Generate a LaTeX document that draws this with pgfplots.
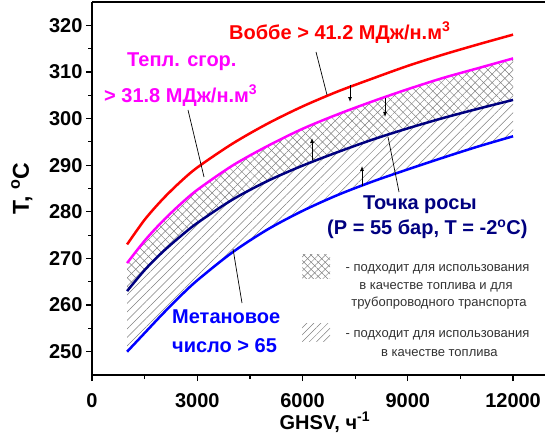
\documentclass[border=0pt]{standalone}
\usepackage{fontspec}
\setmainfont{Liberation Sans}
\usepackage{pgfplots}
\pgfplotsset{compat=1.18}
\usepackage{pgfplotstable}
\usepgfplotslibrary{fillbetween}
\usetikzlibrary{patterns.meta,arrows.meta}

\definecolor{cred}{RGB}{255,0,0}
\definecolor{cmag}{RGB}{255,0,255}
\definecolor{cnavy}{RGB}{0,0,128}
\definecolor{cblue}{RGB}{0,0,255}
\definecolor{cgray}{RGB}{50,50,50}

\pgfplotstableread{
x     red   mag   navy  blue
1000  273   269   263   250
1500  278.3 273.8 267.5 254
2000  282.6 277.9 271.3 258
2500  286.3 281.5 274.6 261.8
3000  289.5 284.7 277.6 265.3
4000  294.6 289.9 282.6 271.3
5000  298.9 294.1 286.6 276.2
6000  302.6 297.8 289.9 280.2
7000  305.8 300.9 292.8 283.6
8000  308.6 303.7 295.5 286.5
9000  311.3 306.3 297.9 289.1
10000 313.7 308.7 300.1 291.6
11000 315.9 310.8 302.1 294
12000 318   312.9 304   296.2
}\data

\begin{document}
\begin{tikzpicture}
\begin{axis}[
  at={(92pt,64pt)}, anchor=south west,
  scale only axis, width=453pt, height=373pt,
  xmin=0, xmax=12910, ymin=245, ymax=325,
  axis x line*=bottom, axis y line*=left,
  axis line style={line width=1.6pt, -},
  xtick={0,3000,...,12000}, ytick={250,260,...,320},
  scaled x ticks=false,
  minor x tick num=1, minor y tick num=1,
  tick align=outside,
  major tick length=6pt, minor tick length=4pt,
  every tick/.append style={black, line width=1.2pt},
  tick label style={font=\fontsize{20}{20}\selectfont\bfseries},
  xticklabel style={yshift=-9pt},
  /pgf/number format/assume math mode=true,
  /pgf/number format/set thousands separator={},
  xlabel={GHSV, ч\textsuperscript{-1}},
  ylabel={T, \textsuperscript{o}C},
  xlabel style={font=\fontsize{20}{20}\selectfont\bfseries, at={(axis description cs:0.514,-0.126)}, anchor=center},
  ylabel style={font=\fontsize{23}{23}\selectfont\bfseries, at={(axis description cs:-0.155,0.5)}, anchor=center},
  clip=false,
]
% invisible named paths
\addplot[draw=none, smooth, name path=magp] table[x=x, y=mag] {\data};
\addplot[draw=none, smooth, name path=navyp] table[x=x, y=navy] {\data};
\addplot[draw=none, smooth, name path=bluep] table[x=x, y=blue] {\data};
% fills
\addplot[draw=none, pattern={Lines[angle=45,distance=6pt,line width=0.5pt]}, pattern color=gray] fill between[of=magp and navyp];
\addplot[draw=none, pattern={Lines[angle=-45,distance=6pt,line width=0.5pt]}, pattern color=gray] fill between[of=magp and navyp];
\addplot[draw=none, pattern={Lines[angle=45,distance=6pt,line width=0.5pt]}, pattern color=gray] fill between[of=navyp and bluep];
% curves
\addplot[cred, line width=2.5pt, smooth] table[x=x, y=red] {\data};
\addplot[cmag, line width=2.5pt, smooth] table[x=x, y=mag] {\data};
\addplot[cnavy, line width=2.5pt, smooth] table[x=x, y=navy] {\data};
\addplot[cblue, line width=2.5pt, smooth] table[x=x, y=blue] {\data};

% top frame line
\draw[line width=1.6pt] (rel axis cs:0,1) -- (rel axis cs:1,1);

% annotations
\begin{scope}[every node/.style={anchor=base west, font=\fontsize{20}{20}\selectfont\bfseries, inner sep=0pt}]
\node[text=cred] at (axis cs:3905,317.06) {Воббе > 41.2 МДж/н.м\textsuperscript{3}};
\node[text=cmag] at (axis cs:998,311.06) {Тепл. сгор.};
\node[text=cmag] at (axis cs:342,303.55) {> 31.8 МДж/н.м\textsuperscript{3}};
\node[text=cnavy] at (axis cs:7724,280.39) {Точка росы};
\node[text=cnavy] at (axis cs:6698,275.03) {(P = 55 бар, T = -2\textsuperscript{o}C)};
\node[text=cblue] at (axis cs:2280,255.94) {Метановое};
\node[text=cblue] at (axis cs:2280,249.93) {число > 65};
\end{scope}

% pointer lines
\draw[black, line width=0.7pt] (axis cs:6384,314.28) -- (axis cs:6698,305.05);
\draw[black, line width=0.7pt] (axis cs:2736,301.84) -- (axis cs:3192,287.47);
\draw[black, line width=0.7pt] (axis cs:8436,296.05) -- (axis cs:8750,284.25);
\draw[black, line width=0.7pt] (axis cs:4019,272.02) -- (axis cs:4275,260.44);

% small arrows
\draw[-{Latex[length=5pt,width=4pt]}, line width=0.8pt] (axis cs:7353,307.2) -- (axis cs:7353,303.55);
\draw[-{Latex[length=5pt,width=4pt]}, line width=0.8pt] (axis cs:8351,304.41) -- (axis cs:8351,300.34);
\draw[-{Latex[length=5pt,width=4pt]}, line width=0.8pt] (axis cs:6270,291.11) -- (axis cs:6270,295.83);
\draw[-{Latex[length=5pt,width=4pt]}, line width=0.8pt] (axis cs:7695,285.54) -- (axis cs:7695,289.83);

% legend swatches
\fill[pattern={Lines[angle=45,distance=5pt,line width=0.5pt]}, pattern color=gray] (axis cs:5985,265.8) rectangle (axis cs:6783,270.74);
\fill[pattern={Lines[angle=-45,distance=5pt,line width=0.5pt]}, pattern color=gray] (axis cs:5985,265.8) rectangle (axis cs:6783,270.74);
\fill[pattern={Lines[angle=45,distance=5pt,line width=0.5pt]}, pattern color=gray] (axis cs:5985,252.08) rectangle (axis cs:6783,256.15);

% legend text
\begin{scope}[every node/.style={anchor=base, text=cgray, font=\fontsize{13}{15}\selectfont, inner sep=0pt}]
\node at (axis cs:9847,267.2) {- подходит для использования};
\node at (axis cs:9804,263.34) {в качестве топлива и для};
\node at (axis cs:9890,259.69) {трубопроводного транспорта};
\node at (axis cs:9847,253.04) {- подходит для использования};
\node at (axis cs:9900,248.97) {в качестве топлива};
\end{scope}
\end{axis}
\pgfresetboundingbox
\path[use as bounding box] (0,0) rectangle (545pt,439pt);
\end{tikzpicture}
\end{document}
